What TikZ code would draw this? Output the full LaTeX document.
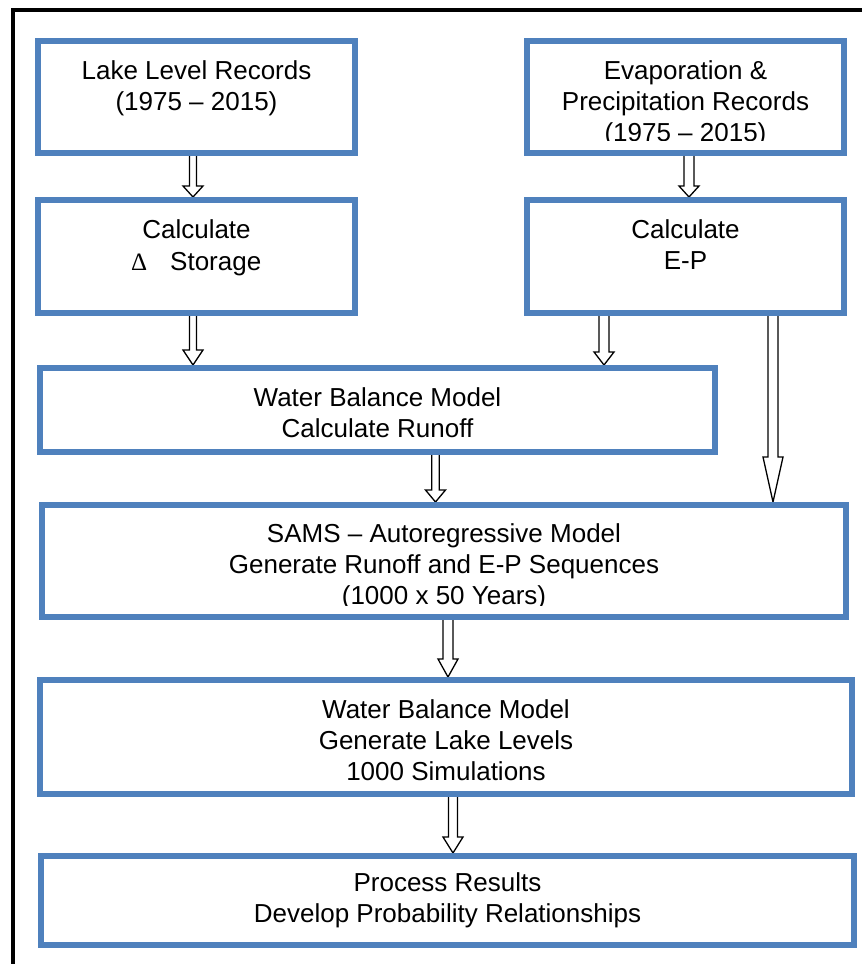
\documentclass[tikz,border=0pt]{standalone}
\usepackage{fontspec}
\setmainfont{Liberation Sans}
\newfontfamily\deltafont{Liberation Serif}
\usetikzlibrary{calc,backgrounds}
\definecolor{boxblue}{HTML}{4F81BD}
% #1 from node, #2 to node, #3 x (px), #4 head length, #5 shaft half width, #6 head half width
\newcommand\blockarr[6]{%
  \draw[blk] let \p1=(#1.south), \p2=(#2.north) in
   ({#3pt-#5pt},\y1+3pt) -- ({#3pt+#5pt},\y1+3pt) -- ({#3pt+#5pt},\y2+#4pt)
   -- ({#3pt+#6pt},\y2+#4pt) -- ({#3pt},\y2) -- ({#3pt-#6pt},\y2+#4pt)
   -- ({#3pt-#5pt},\y2+#4pt) -- cycle;}
\begin{document}
\begin{tikzpicture}[x=1pt,y=-1pt,
  box/.style={draw=boxblue,line width=6pt,fill=white,rectangle,inner sep=0pt},
  txt/.style={font=\fontsize{26}{31}\selectfont,inner sep=0pt,anchor=base},
  blk/.style={draw=black,line width=1.3pt,fill=white,line join=miter}]
\useasboundingbox (0,0) rectangle (862,964);
% outer frame
\draw[line width=4pt,line join=miter] (13,966) -- (13,10) -- (864,10);
% boxes
\node[box,minimum width=317pt,minimum height=112pt] (rec1) at (196.5,97) {};
\node[box,minimum width=317pt,minimum height=113pt] (stor) at (196.5,256.5) {};
\node[box,minimum width=317pt,minimum height=112pt] (evap) at (685.5,97) {};
\node[box,minimum width=317pt,minimum height=113pt] (ep) at (685.5,256.5) {};
\node[box,minimum width=675pt,minimum height=84pt] (wb1) at (377.5,410) {};
\node[box,minimum width=804pt,minimum height=112pt] (sams) at (444,561) {};
\node[box,minimum width=812pt,minimum height=114pt] (wb2) at (446,737) {};
\node[box,minimum width=813pt,minimum height=89pt] (proc) at (447.5,900.5) {};
% arrows
\begin{pgfonlayer}{background}
\blockarr{rec1}{stor}{193}{11}{3.5}{10}
\blockarr{stor}{wb1}{193}{15}{3.5}{10}
\blockarr{evap}{ep}{689}{11}{5}{10}
\blockarr{ep}{wb1}{604}{13}{5}{10}
\blockarr{ep}{sams}{773}{45}{5}{10}
\blockarr{wb1}{sams}{435.5}{12}{3.8}{10}
\blockarr{sams}{wb2}{448}{18}{5}{10}
\blockarr{wb2}{proc}{453}{16}{4.5}{10}
\end{pgfonlayer}
% texts
\node[txt] (t1a) at (196.5,79) {Lake Level Records};
\node[txt] (t1b) at (196.5,110) {(1975 – 2015)};
\node[txt] (t2a) at (196.5,238) {Calculate};
\node[txt,anchor=base west] (t2d) at (131,270) {\deltafont\fontsize{25}{30}\selectfont Δ};
\node[txt,anchor=base west] (t2b) at (170,270) {Storage};
\node[txt] (t4a) at (685.5,79) {Evaporation \&};
\node[txt] (t4b) at (685.5,110) {Precipitation Records};
\begin{scope}
\clip (530,44) rectangle (841,140);
\node[txt] (t4c) at (685.5,141) {(1975 – 2015)};
\end{scope}
\node[txt] (t5a) at (685.5,238) {Calculate};
\node[txt] (t5b) at (685.5,269) {E-P};
\node[txt] (t3a) at (377.5,406) {Water Balance Model};
\node[txt] (t3b) at (377.5,437) {Calculate Runoff};
\node[txt] (t6a) at (444,542) {SAMS – Autoregressive Model};
\node[txt] (t6b) at (444,573) {Generate Runoff and E-P Sequences};
\begin{scope}
\clip (45,508) rectangle (843,605);
\node[txt] (t6c) at (444,604) {(1000 x 50 Years)};
\end{scope}
\node[txt] (t7a) at (446,718) {Water Balance Model};
\node[txt] (t7b) at (446,749) {Generate Lake Levels};
\node[txt] (t7c) at (446,780) {1000 Simulations};
\node[txt] (t8a) at (447.5,891) {Process Results};
\node[txt] (t8b) at (447.5,922) {Develop Probability Relationships};
\end{tikzpicture}
\end{document}
